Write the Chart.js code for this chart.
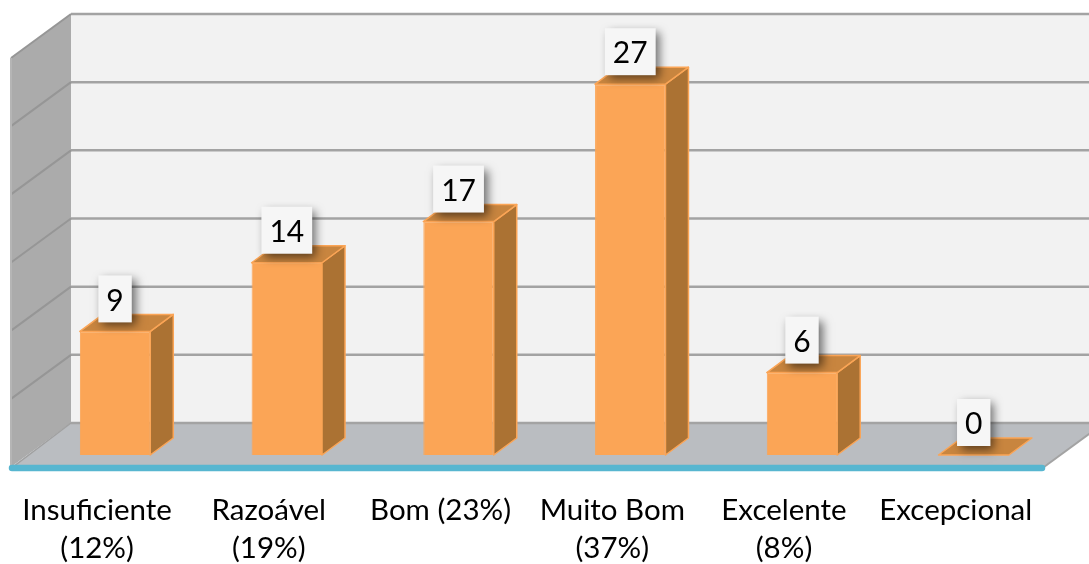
<!DOCTYPE html>
<html>
<head>
<meta charset="utf-8">
<style>html,body{margin:0;padding:0;background:#fff;overflow:hidden}canvas{display:block}</style>
<script src="https://cdn.jsdelivr.net/npm/chart.js@4"></script>
</head>
<body>
<canvas id="c" width="1089" height="564"></canvas>
<script>
const categories = [["Insuficiente","(12%)"],["Razoável","(19%)"],"Bom (23%)",["Muito Bom","(37%)"],["Excelente","(8%)"],"Excepcional"];
const seriesValues = [9,14,17,27,6,0];
const FONT = 'Lato, Carlito, sans-serif';

const scene3d = {
  id:'scene3d',
  beforeDatasetsDraw(chart){
    const ctx=chart.ctx, y=chart.scales.y, area=chart.chartArea;
    const base=y.getPixelForValue(0);
    const k=409/(base-y.getPixelForValue(y.max));
    const up=p=>(base-p)*k;
    const top=up(y.getPixelForValue(y.max));
    const fx=area.left-18.2, bx=fx+60, fy=base+12, by=base-32, frx=1044;
    const poly=(pts,fill)=>{ctx.beginPath();pts.forEach((p,i)=>i?ctx.lineTo(p[0],p[1]):ctx.moveTo(p[0],p[1]));ctx.closePath();ctx.fillStyle=fill;ctx.fill();};
    ctx.save();
    poly([[bx,by-top],[1089,by-top],[1089,by],[bx,by]],'#f2f2f2');
    poly([[fx,fy-top],[bx,by-top],[bx,by],[fx,fy]],'#ababab');
    poly([[fx,fy],[bx,by],[frx+60,by],[frx,fy]],'#babdc1');
    ctx.strokeStyle='#a3a3a3';ctx.lineCap='butt';
    y.ticks.forEach(t=>{
      const h=up(y.getPixelForValue(t.value));
      ctx.lineWidth=2.5;ctx.strokeStyle='#a3a3a3';ctx.beginPath();ctx.moveTo(bx,by-h);ctx.lineTo(1089,by-h);ctx.stroke();
      if(t.value>0){ctx.lineWidth=2;ctx.strokeStyle='#969696';ctx.beginPath();ctx.moveTo(bx,by-h);ctx.lineTo(fx,fy-h);ctx.stroke();}
    });
    ctx.lineWidth=2;
    ctx.beginPath();ctx.moveTo(fx,fy-top);ctx.lineTo(fx,fy);ctx.strokeStyle='#b5b5b5';ctx.stroke();
    ctx.strokeStyle='#a3a3a3';
    ctx.beginPath();ctx.moveTo(frx,fy);ctx.lineTo(frx+60,by);ctx.stroke();
    ctx.strokeStyle='#a0a0a0';ctx.lineWidth=1.5;
    ctx.beginPath();ctx.moveTo(fx+2,fy);ctx.lineTo(bx,by);ctx.stroke();
    ctx.strokeStyle='#57b6d0';ctx.lineWidth=6.5;ctx.lineCap='round';
    ctx.beginPath();ctx.moveTo(fx+1,fy+1);ctx.lineTo(frx-2,fy+1);ctx.stroke();
    ctx.restore();

    const dx=23, dy=17;
    chart.getDatasetMeta(0).data.forEach(b=>{
      const hw=b.width/2,l=b.x-hw,r=b.x+hw,t=b.y,bot=b.base;
      ctx.save();ctx.lineWidth=1.5;ctx.strokeStyle='#fba556';ctx.lineJoin='round';
      const face=(pts,fill)=>{poly(pts,fill);ctx.stroke();};
      if(bot-t>0.5) face([[r,t],[r+dx,t-dy],[r+dx,bot-dy],[r,bot]],'#ab7233');
      face([[l,t],[l+dx,t-dy],[r+dx,t-dy],[r,t]],'#c8853f');
      ctx.restore();
    });
  },
  afterDatasetsDraw(chart){
    const ctx=chart.ctx;
    const vals=chart.data.datasets[0].data;
    chart.getDatasetMeta(0).data.forEach((b,i)=>{
      const txt=String(vals[i]);
      ctx.save();
      ctx.font='30px '+FONT;
      const w=ctx.measureText(txt).width+16, h=47;
      const x=b.x-w/2, yy=b.y-9-h;
      ctx.shadowColor='rgba(0,0,0,0.55)';ctx.shadowBlur=9;ctx.shadowOffsetX=4;ctx.shadowOffsetY=4;
      ctx.fillStyle='#f6f6f6';ctx.fillRect(x,yy,w,h);
      ctx.shadowColor='transparent';ctx.shadowBlur=0;ctx.shadowOffsetX=0;ctx.shadowOffsetY=0;
      ctx.fillStyle='#000';ctx.textAlign='center';ctx.textBaseline='middle';
      ctx.fillText(txt,b.x,yy+h/2+2);
      ctx.restore();
    });
  }
};

new Chart(document.getElementById('c'),{
  type:'bar',
  data:{labels:categories,datasets:[{data:seriesValues,backgroundColor:'#fba556',borderColor:'#fba556',borderWidth:1,barPercentage:0.41,categoryPercentage:1}]},
  plugins:[scene3d],
  options:{
    responsive:false,animation:false,
    layout:{padding:{left:29.2,right:29.4,top:43,bottom:0}},
    plugins:{legend:{display:false},tooltip:{enabled:false}},
    scales:{
      x:{
        grid:{display:false},border:{display:false},
        afterFit(s){s.height=109;},
        ticks:{color:'#000',font:{family:FONT,size:29.5,lineHeight:1.29},padding:28,labelOffset:-18,maxRotation:0,minRotation:0,autoSkip:false}
      },
      y:{display:false,min:0,max:30,ticks:{stepSize:5}}
    }
  }
});
</script>
</body>
</html>
